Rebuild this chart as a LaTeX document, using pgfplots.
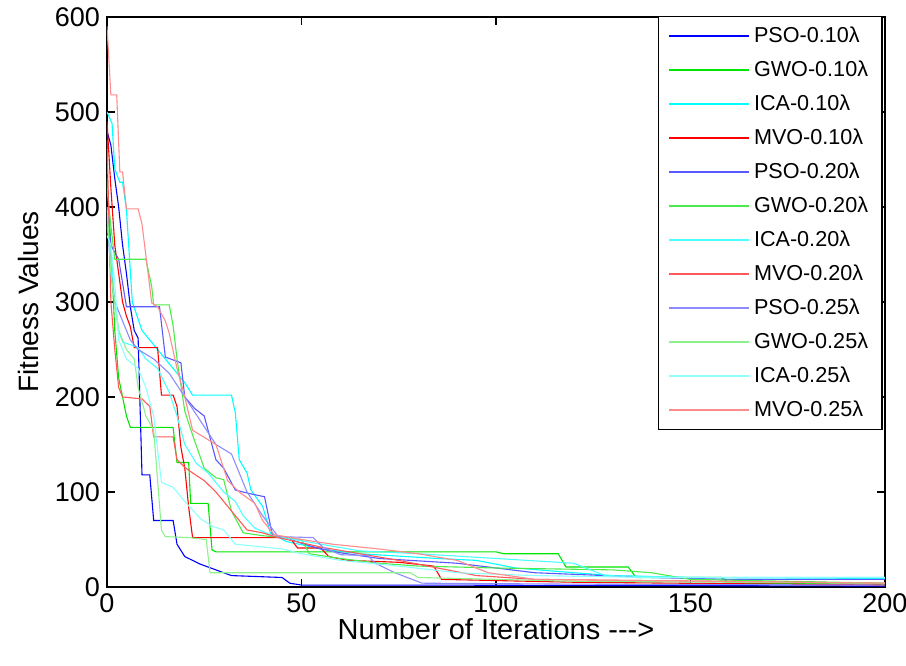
\documentclass[border=0pt]{standalone}
\usepackage{fontspec}
\setmainfont{Liberation Sans}
\usepackage{pgfplots}
\pgfplotsset{compat=1.18}
\definecolor{c1b}{rgb}{0,0,1}
\definecolor{c1g}{rgb}{0,0.9,0}
\definecolor{c1c}{rgb}{0,1,1}
\definecolor{c1r}{rgb}{1,0,0}
\definecolor{c2b}{rgb}{0.35,0.35,1}
\definecolor{c2g}{rgb}{0.3,0.92,0.3}
\definecolor{c2c}{rgb}{0.3,1,1}
\definecolor{c2r}{rgb}{1,0.35,0.35}
\definecolor{c3b}{rgb}{0.55,0.55,1}
\definecolor{c3g}{rgb}{0.55,0.95,0.55}
\definecolor{c3c}{rgb}{0.55,1,1}
\definecolor{c3r}{rgb}{1,0.55,0.55}
\begin{document}
\begin{tikzpicture}
\begin{axis}[
  scale only axis, width=389pt, height=285pt,
  xmin=0, xmax=200, ymin=0, ymax=600,
  xtick={0,50,100,150,200}, ytick={0,100,200,300,400,500,600},
  tick align=inside, major tick length=4pt,
  every tick/.style={black, line width=0.8pt},
  axis line style={black, line width=0.7pt},
  /pgf/number format/assume math mode=true,
  tick label style={font=\fontsize{13.5}{15}\selectfont},
  xlabel style={font=\fontsize{14.5}{16}\selectfont},
  ylabel style={font=\fontsize{14}{16}\selectfont},
  xlabel={Number of Iterations -{}-{}->},
  ylabel={Fitness Values},
  xlabel style={at={(axis description cs:0.5,-0.074)}, anchor=center},
  ylabel style={at={(axis description cs:-0.101,0.5)}, anchor=center, rotate=0},
  legend cell align=left,
  legend style={at={(rel axis cs:0.997,1.002)}, anchor=north east, draw=black, line width=0.6pt,
    font=\fontsize{10.8}{13}\selectfont, inner xsep=5pt, inner ysep=2pt, row sep=1.5pt,
    nodes={text height=9pt, text depth=2.5pt, inner sep=2pt}},
  legend image code/.code={\draw[#1, line width=0.6pt] (0pt,0pt) -- (40pt,0pt);},
  every axis plot/.append style={line width=0.55pt, sharp plot},
]
\addplot[c1b] coordinates {(0,480) (1,465) (2,430) (3,400) (4,360) (5,330) (6,295) (7,270) (8,262) (9,118) (11,118) (12,70) (17,70) (18,45) (20,32) (24,24) (28,18) (32,12) (45,10) (47,4) (50,2) (80,2) (200,1)};
\addlegendentry{PSO-0.10λ}
\addplot[c1g] coordinates {(0,430) (1,360) (2,270) (3,220) (4,200) (5,180) (6,168) (17,168) (18,131) (21,131) (21.5,88) (26,88) (27,39) (28,37) (100,37) (102,35) (116,35) (118,21) (134,21) (136,10) (158,10) (160,4) (200,3)};
\addlegendentry{GWO-0.10λ}
\addplot[c1c] coordinates {(0,500) (1.3,488) (2,440) (3.3,426) (4,426) (5,397) (6.5,300) (9,270) (12,255) (17,230) (20,215) (22,202) (32,202) (33,183) (34,134) (36,120) (37,102) (40,85) (42,57) (46,48) (55,40) (65,35) (85,30) (95,28) (105,20) (120,15) (130,12) (150,10) (200,9)};
\addlegendentry{ICA-0.10λ}
\addplot[c1r] coordinates {(0,490) (1,420) (2,360) (3,330) (4,300) (5,285) (6,274) (7,252) (13,252) (14,202) (17,202) (18,190) (19,147) (20,125) (21,84) (22,52) (47,52) (49,41) (55,41) (57,32) (62,28) (75,26) (84,22) (86,8) (120,5) (200,2)};
\addlegendentry{MVO-0.10λ}
\addplot[c2b] coordinates {(0,400) (1,360) (2,352) (3,345) (4,320) (5,295) (13.5,295) (15,242) (19,236) (20,200) (22.5,188) (25,180) (28,134) (30,125) (33,102) (37,98) (40.5,95) (42.5,55) (46,52) (50,46) (55,40) (60,36) (70,30) (90,25) (110,15) (140,10) (160,8) (200,8)};
\addlegendentry{PSO-0.20λ}
\addplot[c2g] coordinates {(0,420) (1,380) (2,345) (10,345) (11.5,316) (12,297) (16,297) (17,275) (18,240) (20,185) (22,160) (25,125) (28,115) (30,113) (32,80) (35,57) (40,54) (50,50) (52,35) (60,30) (70,25) (80,22) (100,20) (130,18) (140,15) (150,8) (200,4)};
\addlegendentry{GWO-0.20λ}
\addplot[c2c] coordinates {(0,380) (1,350) (2,300) (3,270) (4,258) (8,252) (10,240) (13,230) (16,205) (18,180) (20,150) (23,130) (26,120) (30,100) (33,90) (35,75) (38,62) (42,55) (48,50) (55,45) (65,38) (80,35) (100,30) (120,25) (128,12) (150,10) (200,10)};
\addlegendentry{ICA-0.20λ}
\addplot[c2r] coordinates {(0,470) (1,300) (2,250) (3,210) (4,200) (9,198) (11,190) (12,158) (17,158) (18,134) (20,126) (22,120) (25,112) (28,100) (32,80) (36,60) (40,57) (44,52) (55,42) (65,35) (75,28) (85,20) (95,12) (110,8) (200,4)};
\addlegendentry{MVO-0.20λ}
\addplot[c3b] coordinates {(0,390) (1,330) (2,300) (4,280) (6,260) (8,250) (12,240) (16,225) (20,200) (24,175) (28,150) (32,140) (36,100) (40,75) (44,53) (53,52) (55.5,42) (60,34) (67,33) (69,25) (74,15) (81,4) (120,3) (200,2)};
\addlegendentry{PSO-0.25λ}
\addplot[c3g] coordinates {(0,400) (1,330) (2,300) (3,270) (5,250) (7,240) (8,210) (10,180) (12,165) (14,60) (15,53) (21,52) (25.5,50) (26.5,15) (78,15) (80,10) (120,6) (200,4)};
\addlegendentry{GWO-0.25λ}
\addplot[c3c] coordinates {(0,370) (1,360) (2,320) (3,260) (5,240) (8,230) (10,210) (12,180) (14,110) (17,105) (20,90) (24,72) (27,64) (30,60) (33,45) (38,43) (45,40) (50,35) (60,28) (75,22) (90,15) (110,12) (140,10) (200,10)};
\addlegendentry{ICA-0.25λ}
\addplot[c3r] coordinates {(0,590) (1,518) (2.5,518) (3.3,437) (4,437) (5,398) (8,398) (9,382) (11.5,299) (13,295) (15,280) (16,267) (18,230) (20,200) (22,165) (26,155) (28,150) (31,112) (34,100) (38,88) (40,70) (43,55) (50,50) (58,45) (70,40) (80,35) (90,28) (98,15) (110,8) (200,4)};
\addlegendentry{MVO-0.25λ}
\coordinate (bl) at (rel axis cs:0,0);
\coordinate (tr) at (rel axis cs:1,1);
\end{axis}
\pgfresetboundingbox
\path ([xshift=-53.5pt,yshift=-39.5pt]bl) rectangle ([xshift=10.5pt,yshift=8.5pt]tr);
\end{tikzpicture}
\end{document}
